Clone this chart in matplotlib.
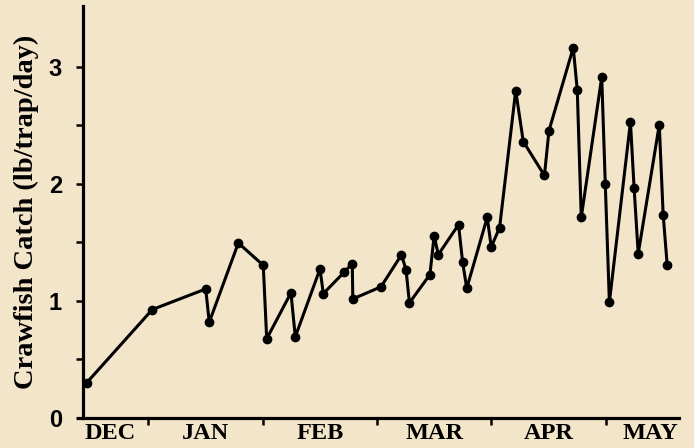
import matplotlib
matplotlib.use("Agg")
import matplotlib.pyplot as plt
from matplotlib.ticker import FixedLocator, NullFormatter

# x positions in month units (0 = start of DEC, 1 = start of JAN, ...)
sample_month = [0.462, 1.035, 1.502, 1.533, 1.787, 2.005, 2.035, 2.247, 2.285,
                2.501, 2.530, 2.711, 2.783, 2.788, 3.034, 3.213, 3.253, 3.283,
                3.462, 3.499, 3.535, 3.712, 3.748, 3.784, 3.963, 3.998, 4.071,
                4.212, 4.278, 4.463, 4.503, 4.715, 4.750, 4.785, 4.964, 4.995,
                5.031, 5.215, 5.247, 5.283, 5.467, 5.501, 5.536]
catch = [0.299, 0.924, 1.100, 0.816, 1.493, 1.302, 0.674, 1.067, 0.691,
         1.271, 1.060, 1.242, 1.317, 1.015, 1.118, 1.391, 1.265, 0.981,
         1.223, 1.555, 1.393, 1.649, 1.328, 1.106, 1.712, 1.459, 1.624,
         2.795, 2.360, 2.070, 2.454, 3.162, 2.801, 1.712, 2.910, 1.997,
         0.986, 2.526, 1.962, 1.402, 2.503, 1.735, 1.308]

month_labels = ["DEC", "JAN", "FEB", "MAR", "APR", "MAY"]
month_label_pos = [0.665, 1.5, 2.5, 3.5, 4.5, 5.39]
month_bounds = [1, 2, 3, 4, 5]
y_major = [0, 1, 2, 3]
y_minor = [0.5, 1.5, 2.5]

bg = "#F3E5C9"
fig = plt.figure(figsize=(6.94, 4.48), dpi=100, facecolor=bg)
ax = fig.add_axes([0.112, 0.0677, 0.9788 - 0.112, 0.9866 - 0.0677])
ax.set_facecolor(bg)

ax.plot(sample_month, catch, color="black", lw=2.2, marker="o", ms=6,
        clip_on=False, zorder=3)

ax.set_xlim(0.383, 5.642)
ax.set_ylim(0, 3.518)

for s in ["top", "right"]:
    ax.spines[s].set_visible(False)
ax.spines["left"].set_position(("data", 0.427))
ax.spines["left"].set_linewidth(2.3)
ax.spines["bottom"].set_linewidth(2.3)

ax.yaxis.set_major_locator(FixedLocator(y_major))
ax.yaxis.set_minor_locator(FixedLocator(y_minor))
ax.set_yticklabels([str(v) for v in y_major], fontfamily="Liberation Sans",
                   fontweight="bold", fontsize=17)
ax.tick_params(axis="y", which="both", direction="out", length=5, width=1.8,
               pad=10)

ax.xaxis.set_major_locator(FixedLocator(month_bounds))
ax.xaxis.set_major_formatter(NullFormatter())
ax.xaxis.set_minor_locator(FixedLocator(month_label_pos))
ax.set_xticklabels(month_labels, minor=True, fontfamily="Liberation Serif",
                   fontweight="bold", fontsize=17.5)
ax.tick_params(axis="x", which="major", direction="out", length=5, width=1.8)
ax.tick_params(axis="x", which="minor", length=0, pad=4)

ax.set_ylabel("Crawfish Catch (lb/trap/day)", fontfamily="Liberation Serif",
              fontweight="bold", fontsize=20.5, labelpad=7)

fig.savefig("out.png", dpi=100, facecolor=bg)
